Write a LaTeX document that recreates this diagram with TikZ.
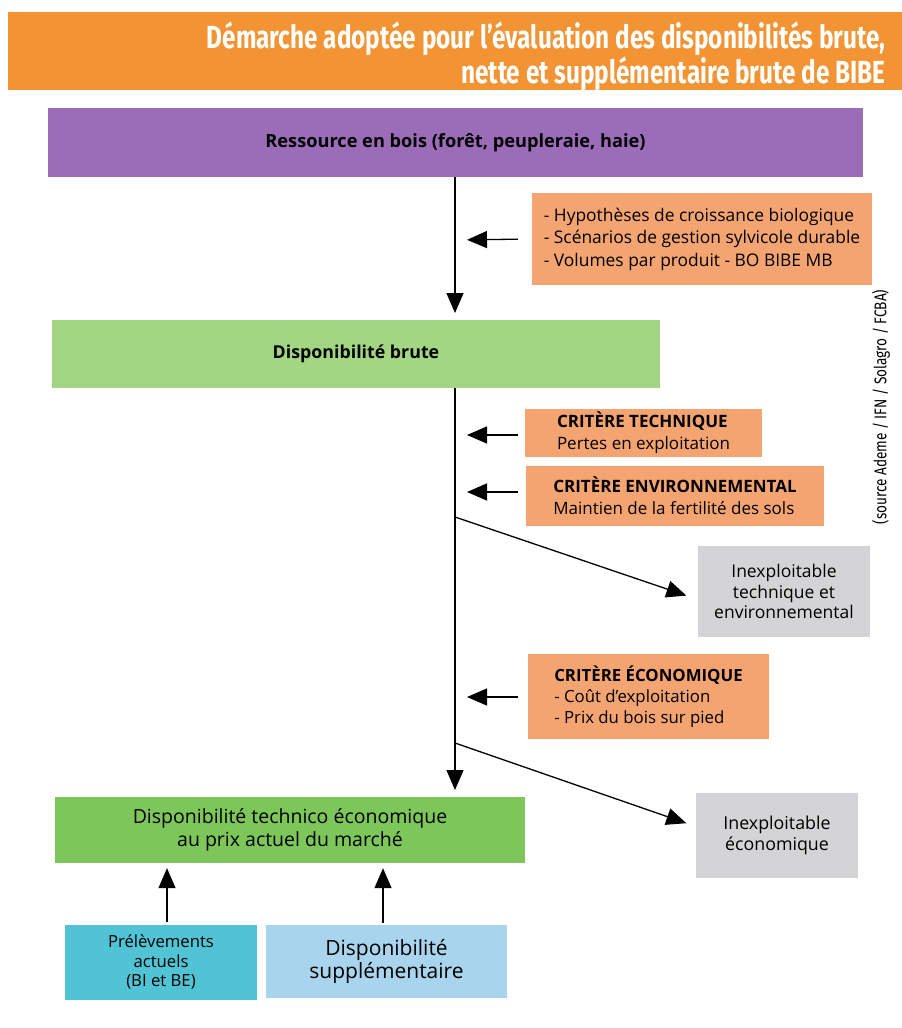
\documentclass[tikz,border=0pt]{standalone}
\usepackage{fontspec}
\setmainfont{Open Sans}
\newfontfamily\titlefont[FakeStretch=0.76]{Fira Sans}
\newfontfamily\sourcefont[FakeStretch=0.8]{Fira Sans}
\usetikzlibrary{arrows.meta,positioning,calc}

\definecolor{bannerorange}{RGB}{242,148,52}
\definecolor{resspurple}{RGB}{155,108,184}
\definecolor{brutegreen}{RGB}{162,214,130}
\definecolor{ecogreen}{RGB}{124,198,90}
\definecolor{critorange}{RGB}{244,164,112}
\definecolor{inexgray}{RGB}{212,212,214}
\definecolor{prelteal}{RGB}{80,196,212}
\definecolor{suppblue}{RGB}{168,212,238}

\tikzset{x=1pt, y=-1pt, % One unit is one pixel of the reference, y going down
        box/.style={ % Sets the properties for each box
            rectangle,
            inner sep=0pt,
            align=center,
            font=\fontsize{17}{22}\selectfont},
        critbox/.style={ % Orange boxes with the criteria
            box,
            fill=critorange,
            align=left},
        inexbox/.style={ % Grey boxes for what cannot be harvested
            box,
            fill=inexgray,
            font=\fontsize{17.5}{20.5}\selectfont},
        flow/.style={ % Sets the properties for each arrow
            draw,
            line width=1.3pt,
            -{Triangle[length=20pt,width=17pt]}}
        }

\begin{document}
\begin{tikzpicture}
    \useasboundingbox (0,0) rectangle (902,1028);

    % title banner
    \fill[bannerorange] (8,12) rectangle (902,90);
    \node[anchor=east, align=right, text=white,
          font=\titlefont\bfseries\fontsize{32}{32}\selectfont] (title) at (889,56)
        {Démarche adoptée pour l’évaluation des disponibilités brute,\\
         nette et supplémentaire brute de BIBE};

    % boxes
    \node[box, fill=resspurple, minimum width=815, minimum height=69,
          font=\bfseries\fontsize{18.2}{22}\selectfont] (res) at (455.5,142.5)
        {Ressource en bois (forêt, peupleraie, haie)};
    \node[critbox, minimum width=340, minimum height=92,
          font=\fontsize{17.4}{22.5}\selectfont] (hyp) at (702,239)
        {- Hypothèses de croissance biologique\\
         - Scénarios de gestion sylvicole durable\\
         - Volumes par produit - BO BIBE MB};
    \node[box, fill=brutegreen, minimum width=608, minimum height=68,
          font=\bfseries\fontsize{17.8}{22}\selectfont] (brute) at (356,354)
        {Disponibilité brute};
    \node[critbox, minimum width=237, minimum height=48] (tech) at (643.5,433)
        {\textbf{CRITÈRE TECHNIQUE}\\ Pertes en exploitation};
    \node[critbox, minimum width=298, minimum height=60] (env) at (675,496)
        {\textbf{CRITÈRE ENVIRONNEMENTAL}\\ Maintien de la fertilité des sols};
    \node[inexbox, minimum width=172, minimum height=91] (inex1) at (784,591.5)
        {Inexploitable\\ technique et\\ environnemental};
    \node[critbox, minimum width=241, minimum height=85,
          font=\fontsize{16.8}{21}\selectfont] (eco) at (648.5,696.5)
        {\textbf{CRITÈRE ÉCONOMIQUE}\\ - Coût d'exploitation\\ - Prix du bois sur pied};
    \node[inexbox, minimum width=162, minimum height=85,
          font=\fontsize{17.8}{21}\selectfont] (inex2) at (777,835.5)
        {Inexploitable\\ économique};
    \node[box, fill=ecogreen, minimum width=470, minimum height=66,
          font=\fontsize{19.5}{23.5}\selectfont] (teco) at (290,830)
        {Disponibilité technico économique\\ au prix actuel du marché};
    \node[box, fill=prelteal, minimum width=192, minimum height=75,
          font=\fontsize{16.7}{19.8}\selectfont] (prel) at (161,962)
        {Prélèvements\\ actuels\\ (BI et BE)};
    \node[box, fill=suppblue, minimum width=241, minimum height=73,
          font=\fontsize{21}{23.5}\selectfont] (supp) at (386.5,961.5)
        {Disponibilité\\ supplémentaire};

    % source, turned along the right edge
    \node[rotate=90, font=\sourcefont\fontsize{17}{17}\selectfont] (source) at (881,407)
        {(source Ademe / IFN / Solagro / FCBA)};

    % points on the main line
    \coordinate (m1) at (455,240);
    \coordinate (m2) at (455,435);
    \coordinate (m3) at (455,492);
    \coordinate (m4) at (455,697);
    \coordinate (d1) at (455,517);
    \coordinate (d2) at (455,743);

    % main line
    \draw[flow, shorten >=7pt] (455,177) -- (455,320);
    \draw[flow, shorten >=7pt] (455,388) -- (455,797);

    % criteria acting on the main line
    \draw[flow, shorten <=14pt, shorten >=12pt] (hyp.west) -- (m1);
    \draw[flow, shorten <=7pt, shorten >=12pt] (tech.west |- m2) -- (m2);
    \draw[flow, shorten <=8pt, shorten >=12pt] (env.west |- m3) -- (m3);
    \draw[flow, shorten <=10pt, shorten >=12pt] (eco.west |- m4) -- (m4);

    % what is left aside
    \draw[flow, shorten >=12pt] (d1) -- ([yshift=-8pt]inex1.west);
    \draw[flow, shorten >=10pt] (d2) -- ([yshift=9pt]inex2.west);

    % inputs to the market availability
    \draw[flow, shorten <=2pt, shorten >=5pt] ([xshift=6pt]prel.north) -- ([xshift=6pt]prel.north |- teco.south);
    \draw[flow, shorten <=2pt, shorten >=5pt] ([xshift=-3.5pt]supp.north) -- ([xshift=-3.5pt]supp.north |- teco.south);
\end{tikzpicture}
\end{document}
